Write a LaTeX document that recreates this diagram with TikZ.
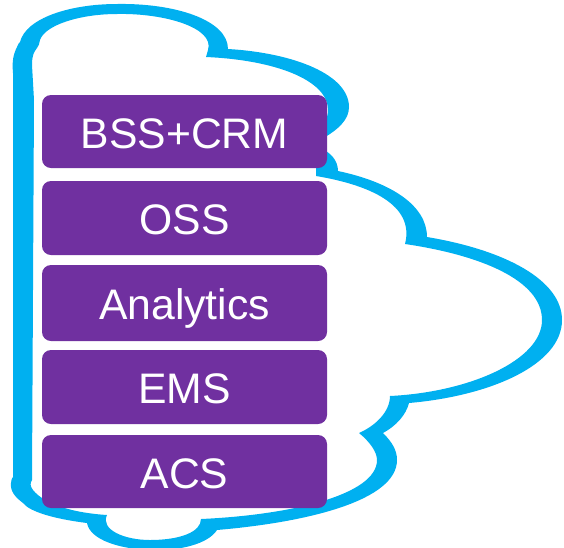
\documentclass[tikz,border=0pt]{standalone}
\usepackage{fontspec}
\setmainfont{Liberation Sans}
\definecolor{cloudblue}{HTML}{00B0F0}
\definecolor{boxpurple}{HTML}{7030A0}
\tikzset{
  layerbox/.style={draw=none,fill=boxpurple,rounded corners=9pt,minimum width=285pt,inner sep=0pt,
    text=white,font=\fontsize{42.7}{42.7}\selectfont,text height=33pt,text depth=0pt,anchor=center},
}
\begin{document}
\begin{tikzpicture}[x=1pt,y=-1pt]
\useasboundingbox (0,0) rectangle (564,547);
\begin{scope}
\clip (0,0) rectangle (564,547);
\fill[cloudblue,even odd rule]
  % outer outline
  (13,477) -- (13,73) .. controls (12,62) and (13,55) .. (17,47)
  .. controls (18,44) and (19,43) .. (20,42)
  .. controls (26,18) and (70,4) .. (117,4)
  .. controls (175,3) and (228,20) .. (228,49)
  .. controls (295,53) and (349,75) .. (349,107)
  .. controls (349,120) and (338,130) .. (320,140)
  -- (320,148) .. controls (330,152) and (338,160) .. (338,171)
  .. controls (390,182) and (427,205) .. (427,237)
  .. controls (505,250) and (562,280) .. (562,320)
  .. controls (562,365) and (490,396) .. (409,403)
  .. controls (406,415) and (396,426) .. (383,433)
  .. controls (392,442) and (397,450) .. (397,460)
  .. controls (397,500) and (310,522) .. (217,530)
  .. controls (208,544) and (180,551) .. (150,550)
  .. controls (120,549) and (90,540) .. (87,523)
  .. controls (55,519) and (30,512) .. (23,503)
  .. controls (15,497) and (10,491) .. (11,483)
  .. controls (11,480) and (12,478) .. (13,477) -- cycle
  % inner outline
  (32,480) -- (34,100) -- (32,65) .. controls (32,55) and (34,52) .. (37,48)
  .. controls (39,46) and (39,44) .. (40,40)
  .. controls (45,25) and (80,14) .. (117,14)
  .. controls (165,13) and (215,28) .. (208,50)
  -- (206,57) .. controls (275,60) and (328,80) .. (328,110)
  .. controls (328,120) and (322,128) .. (316,132)
  -- (316,176) .. controls (370,185) and (415,205) .. (405,244)
  .. controls (480,255) and (542,280) .. (542,320)
  .. controls (542,360) and (470,392) .. (390,396)
  .. controls (390,412) and (375,426) .. (359,433)
  .. controls (370,442) and (377,452) .. (377,460)
  .. controls (377,495) and (290,515) .. (201,519)
  .. controls (201,532) and (180,540) .. (150,540)
  .. controls (125,540) and (100,530) .. (107,515)
  .. controls (75,513) and (45,505) .. (33,490)
  .. controls (30,486) and (30,483) .. (32,480) -- cycle;
\end{scope}
\node[layerbox,minimum height=73pt] (bss) at (184.5,131.5) {BSS+CRM};
\node[layerbox,minimum height=74pt] (oss) at (184.5,218) {OSS};
\node[layerbox,minimum height=76pt] (ana) at (184.5,303) {Analytics};
\node[layerbox,minimum height=74pt] (ems) at (184.5,387) {EMS};
\node[layerbox,minimum height=73pt] (acs) at (184.5,471.5) {ACS};
\end{tikzpicture}
\end{document}
